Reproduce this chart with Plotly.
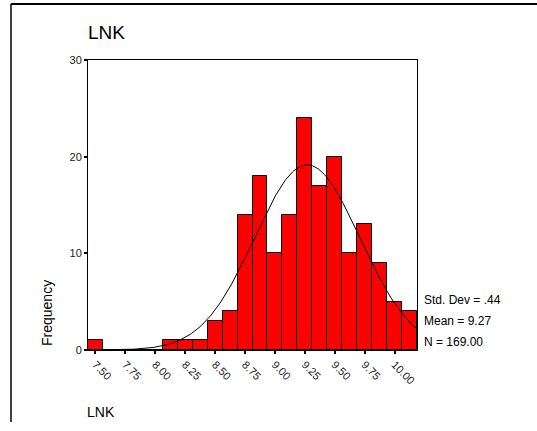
import numpy as np
import plotly.graph_objects as go

# ---- data ----
bin_centers = [7.500, 7.625, 7.750, 7.875, 8.000, 8.125, 8.250, 8.375, 8.500, 8.625,
               8.750, 8.875, 9.000, 9.125, 9.250, 9.375, 9.500, 9.625, 9.750, 9.875,
               10.000, 10.125]
counts = [1, 0, 0, 0, 0, 1, 1, 1, 3, 4,
          14, 18, 10, 14, 24, 17, 20, 10, 13, 9,
          5, 4]
tick_values = [7.50, 7.75, 8.00, 8.25, 8.50, 8.75, 9.00, 9.25, 9.50, 9.75, 10.00]
tick_labels = ["7.50", "7.75", "8.00", "8.25", "8.50", "8.75", "9.00", "9.25", "9.50", "9.75", "10.00"]
y_ticks = [0, 10, 20, 30]
std_dev = 0.44
mean = 9.27
n_obs = 169
bin_width = 0.125
stats_text = ["Std. Dev = .44", "Mean = 9.27", "N = 169.00"]

# ---- geometry (pixels) ----
W, H = 537, 422
X0, X1 = 88, 417
YT, YB = 60, 350


def px(x):
    return (x - X0) / (X1 - X0)


def py(y):
    return (YB - y) / (YB - YT)


xmin, xmax = bin_centers[0] - bin_width / 2, bin_centers[-1] + bin_width / 2

# fitted normal curve
xc = np.linspace(xmin, xmax, 300)
yc = n_obs * bin_width / (std_dev * np.sqrt(2 * np.pi)) * np.exp(-0.5 * ((xc - mean) / std_dev) ** 2)

fig = go.Figure()
fig.add_trace(go.Bar(x=bin_centers, y=counts, width=bin_width,
                     marker=dict(color="#FF0000", line=dict(color="black", width=1)),
                     hoverinfo="skip"))
fig.add_trace(go.Scatter(x=xc, y=yc, mode="lines", line=dict(color="black", width=1),
                         hoverinfo="skip"))

font_family = "Liberation Sans, Arial, sans-serif"

fig.update_layout(
    width=W, height=H, autosize=False,
    margin=dict(l=X0, r=W - X1, t=YT, b=H - YB, pad=0),
    paper_bgcolor="white", plot_bgcolor="white",
    showlegend=False, bargap=0,
    font=dict(family=font_family, color="#222222"),
    xaxis=dict(range=[xmin, xmax], tickvals=tick_values, ticktext=tick_labels,
               tickangle=45, tickfont=dict(size=11, color="#222222"),
               ticks="outside", ticklen=3, tickwidth=2, tickcolor="black",
               showline=True, linecolor="black", linewidth=1, mirror=True,
               showgrid=False, zeroline=False, fixedrange=True),
    yaxis=dict(range=[0, 30], tickvals=y_ticks, ticktext=[str(v) for v in y_ticks],
               tickfont=dict(size=11, color="#222222"),
               ticks="outside", ticklen=3, tickwidth=2, tickcolor="black",
               showline=True, linecolor="black", linewidth=1, mirror=True,
               showgrid=False, zeroline=False, fixedrange=True),
)

annotations = [
    dict(text="LNK", x=px(86), y=py(33), xanchor="left", yanchor="middle",
         font=dict(size=19, color="black")),
    dict(text="LNK", x=px(85), y=py(412), xanchor="left", yanchor="middle",
         font=dict(size=14, color="black")),
    dict(text="Frequency", x=px(47), y=py(313), xanchor="center", yanchor="middle",
         textangle=-90, font=dict(size=14, color="black")),
]
for i, t in enumerate(stats_text):
    annotations.append(dict(text=t, x=px(422), y=py(300 + 21 * i), xanchor="left",
                            yanchor="middle", font=dict(size=12, color="black")))
for a in annotations:
    a.update(xref="paper", yref="paper", showarrow=False)
fig.update_layout(annotations=annotations)

# outer frame: only the left and top edges fall inside the page
fig.add_shape(type="line", xref="paper", yref="paper", x0=px(11), x1=px(11),
              y0=py(4), y1=py(H + 10), line=dict(color="black", width=1.5))
fig.add_shape(type="line", xref="paper", yref="paper", x0=px(11), x1=px(W + 10),
              y0=py(4), y1=py(4), line=dict(color="black", width=2))

fig.write_html("out.html", config={"displayModeBar": False},
               post_script="document.documentElement.style.overflow='hidden';"
                           "document.body.style.margin='0';document.body.style.overflow='hidden';")
